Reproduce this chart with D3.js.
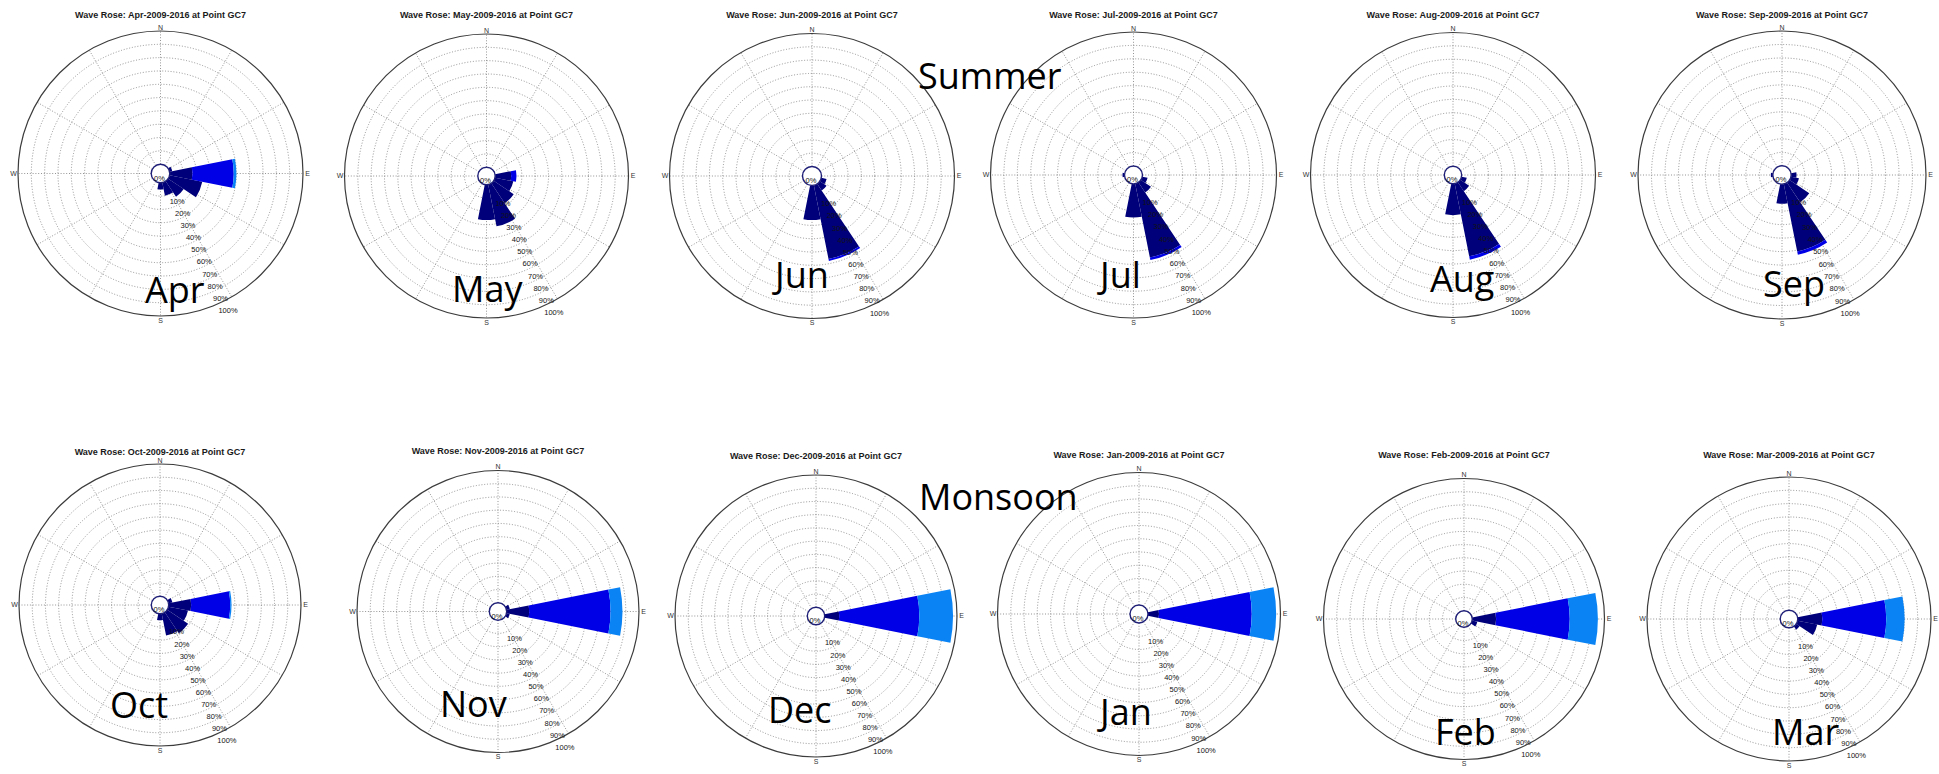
<!DOCTYPE html>
<html>
<head>
<meta charset="utf-8">
<script src="https://cdn.jsdelivr.net/npm/d3@7"></script>
<style>
  html, body { margin: 0; padding: 0; background: #ffffff; }
  svg { display: block; }
  .title { font-family: "Liberation Sans", Arial, sans-serif; font-weight: bold; font-size: 9px; fill: #1a1a1a; }
  .pct { font-family: "Liberation Sans", Arial, sans-serif; font-size: 7.5px; fill: #141414; }
  .compass { font-family: "Liberation Sans", Arial, sans-serif; font-size: 7px; fill: #333; }
  .tag { font-family: "Open Sans", sans-serif; font-size: 36px; fill: #000; }
</style>
</head>
<body>
<svg id="chart" width="1939" height="774"></svg>
<script>
// ---- data ---------------------------------------------------------------
const months = ["Apr", "May", "Jun", "Jul", "Aug", "Sep", "Oct", "Nov", "Dec", "Jan", "Feb", "Mar"];
const directions = ["N", "NNE", "NE", "ENE", "E", "ESE", "SE", "SSE", "S", "SSW", "SW", "WSW", "W", "WNW", "NW", "NNW"];
const ringTicks = [10, 20, 30, 40, 50, 60, 70, 80, 90, 100];
const compassPoints = ["N", "E", "S", "W"];
const seasons = ["Summer", "Monsoon"];
const heightClasses = ["low", "mid", "high"];

// frequency (%) per direction, N .. NNW, lowest wave-height class
const lowClass = [
  /* Apr */ [0, 0, 0, 2, 17, 25, 14, 10, 5, 0, 0, 0, 0, 0, 0, 0],
  /* May */ [0, 0, 0, 0, 12, 14, 18, 32, 26.5, 0, 0, 0, 0, 0, 0, 0],
  /* Jun */ [0, 0, 0, 0, 0, 4, 6, 56.5, 26, 0, 0, 0, 0, 0, 0, 0],
  /* Jul */ [0, 0, 0, 0, 0, 4, 9, 56, 25, 0, 0, 0, 1.5, 0, 0, 0],
  /* Aug */ [0, 0, 0, 0, 0, 4, 8, 55.5, 23.5, 0, 0, 0, 0, 0, 0, 0],
  /* Sep */ [0, 0, 0, 0, 4, 6, 17.5, 51, 14.5, 0, 0, 0, 1.5, 0, 0, 0],
  /* Oct */ [0, 0, 0, 3, 17, 15, 19, 17, 5, 0, 0, 0, 0, 0, 0, 0],
  /* Nov */ [0, 0, 0, 2.5, 17, 2.5, 0, 0, 0, 0, 0, 0, 0, 0, 0, 0],
  /* Dec */ [0, 0, 0, 0, 11, 0, 0, 0, 0, 0, 0, 0, 0, 0, 0, 0],
  /* Jan */ [0, 0, 0, 0, 8.3, 0, 0, 0, 0, 0, 0, 0, 0, 0, 0, 0],
  /* Feb */ [0, 0, 0, 0, 18, 4, 0, 0, 0, 0, 0, 0, 0, 0, 0, 0],
  /* Mar */ [0, 0, 0, 0, 18.4, 15, 3, 0, 0, 0, 0, 0, 0, 0, 0, 0]
];
// middle wave-height class
const midClass = [
  /* Apr */ [0, 0, 0, 0, 31, 0, 0, 0, 0, 0, 0, 0, 0, 0, 0, 0],
  /* May */ [0, 0, 0, 0, 4, 0, 0, 0, 0, 0, 0, 0, 0, 0, 0, 0],
  /* Jun */ [0, 0, 0, 0, 0, 0, 0, 1.5, 0, 0, 0, 0, 0, 0, 0, 0],
  /* Jul */ [0, 0, 0, 0, 0, 0, 0, 2, 0, 0, 0, 0, 0, 0, 0, 0],
  /* Aug */ [0, 0, 0, 0, 0, 0, 0, 2.5, 0, 0, 0, 0, 0, 0, 0, 0],
  /* Sep */ [0, 0, 0, 0, 0, 0, 0, 2.5, 0, 0, 0, 0, 0, 0, 0, 0],
  /* Oct */ [0, 0, 0, 0, 29.5, 0, 0, 0, 0, 0, 0, 0, 0, 0, 0, 0],
  /* Nov */ [0, 0, 0, 0, 61.5, 0, 0, 0, 0, 0, 0, 0, 0, 0, 0, 0],
  /* Dec */ [0, 0, 0, 0, 60.5, 0, 0, 0, 0, 0, 0, 0, 0, 0, 0, 0],
  /* Jan */ [0, 0, 0, 0, 70, 0, 0, 0, 0, 0, 0, 0, 0, 0, 0, 0],
  /* Feb */ [0, 0, 0, 0, 55.7, 0, 0, 0, 0, 0, 0, 0, 0, 0, 0, 0],
  /* Mar */ [0, 0, 0, 0, 48, 0, 0, 0, 0, 0, 0, 0, 0, 0, 0, 0]
];
// highest wave-height class
const highClass = [
  /* Apr */ [0, 0, 0, 0, 2, 0, 0, 0, 0, 0, 0, 0, 0, 0, 0, 0],
  /* May */ [0, 0, 0, 0, 0, 0, 0, 0, 0, 0, 0, 0, 0, 0, 0, 0],
  /* Jun */ [0, 0, 0, 0, 0, 0, 0, 0, 0, 0, 0, 0, 0, 0, 0, 0],
  /* Jul */ [0, 0, 0, 0, 0, 0, 0, 0, 0, 0, 0, 0, 0, 0, 0, 0],
  /* Aug */ [0, 0, 0, 0, 0, 0, 0, 0, 0, 0, 0, 0, 0, 0, 0, 0],
  /* Sep */ [0, 0, 0, 0, 0, 0, 0, 0, 0, 0, 0, 0, 0, 0, 0, 0],
  /* Oct */ [0, 0, 0, 0, 1, 0, 0, 0, 0, 0, 0, 0, 0, 0, 0, 0],
  /* Nov */ [0, 0, 0, 0, 9, 0, 0, 0, 0, 0, 0, 0, 0, 0, 0, 0],
  /* Dec */ [0, 0, 0, 0, 25.5, 0, 0, 0, 0, 0, 0, 0, 0, 0, 0, 0],
  /* Jan */ [0, 0, 0, 0, 18.4, 0, 0, 0, 0, 0, 0, 0, 0, 0, 0, 0],
  /* Feb */ [0, 0, 0, 0, 21.3, 0, 0, 0, 0, 0, 0, 0, 0, 0, 0, 0],
  /* Mar */ [0, 0, 0, 0, 13.8, 0, 0, 0, 0, 0, 0, 0, 0, 0, 0, 0]
];

// ---- layout -------------------------------------------------------------
// rose centre, outer radius, hole radius, title line, month tag position
const layout = [
  { cx: 160.5, cy: 173.5, R: 142.5, r0: 9.3, titleY: 15,  tagX: 145,  tagY: 303 },
  { cx: 486.5, cy: 176,   R: 142,   r0: 8.7, titleY: 15,  tagX: 452,  tagY: 302 },
  { cx: 812,   cy: 176,   R: 142.5, r0: 9.5, titleY: 15,  tagX: 775,  tagY: 288 },
  { cx: 1133.5,cy: 175,   R: 143,   r0: 9,   titleY: 15,  tagX: 1100, tagY: 288 },
  { cx: 1453,  cy: 175,   R: 142.5, r0: 8.7, titleY: 15,  tagX: 1430, tagY: 292 },
  { cx: 1782,  cy: 175,   R: 144,   r0: 9.2, titleY: 15,  tagX: 1763, tagY: 297 },
  { cx: 160,   cy: 605,   R: 141,   r0: 8.7, titleY: 452, tagX: 110,  tagY: 718 },
  { cx: 498,   cy: 611.5, R: 141,   r0: 8.7, titleY: 451, tagX: 440,  tagY: 717 },
  { cx: 816,   cy: 616,   R: 141,   r0: 8.7, titleY: 456, tagX: 768,  tagY: 723 },
  { cx: 1139,  cy: 614,   R: 141.5, r0: 9,   titleY: 455, tagX: 1100, tagY: 725 },
  { cx: 1464,  cy: 619,   R: 140.5, r0: 8.3, titleY: 455, tagX: 1435, tagY: 745 },
  { cx: 1789,  cy: 619,   R: 142,   r0: 8.8, titleY: 455, tagX: 1772, tagY: 745 }
];
const seasonPos = [{ x: 918, y: 89 }, { x: 919, y: 510 }];
const classColors = ["#00007a", "#0000e6", "#0a84f5"];
const labelBearing = 156 * Math.PI / 180;   // direction of the % scale labels

// ---- drawing ------------------------------------------------------------
const svg = d3.select("#chart");
const arc = d3.arc();
const dirAngle = d3.scaleLinear().domain([0, directions.length]).range([0, 2 * Math.PI]);

months.forEach((month, i) => {
  const L = layout[i];
  const g = svg.append("g").attr("transform", `translate(${L.cx},${L.cy})`);
  const r = d3.scaleLinear().domain([0, 100]).range([L.r0, L.R]);

  // dotted range rings
  g.append("g").selectAll("circle")
    .data(ringTicks.filter(t => t < 100))
    .join("circle")
    .attr("r", d => r(d))
    .attr("fill", "none")
    .attr("stroke", "#7a7a7a")
    .attr("stroke-width", 0.8)
    .attr("stroke-dasharray", "1 1.8");

  // dotted spokes every 30 degrees
  g.append("g").selectAll("line")
    .data(d3.range(0, 360, 30))
    .join("line")
    .attr("x1", d => r(0) * Math.sin(d * Math.PI / 180))
    .attr("y1", d => -r(0) * Math.cos(d * Math.PI / 180))
    .attr("x2", d => r(100) * Math.sin(d * Math.PI / 180))
    .attr("y2", d => -r(100) * Math.cos(d * Math.PI / 180))
    .attr("stroke", "#7a7a7a")
    .attr("stroke-width", 0.8)
    .attr("stroke-dasharray", "1 1.8");

  // stacked direction sectors
  const rows = directions.map((d, k) => ({
    dir: k, low: lowClass[i][k], mid: midClass[i][k], high: highClass[i][k]
  }));
  const layers = d3.stack().keys(heightClasses)(rows);
  layers.forEach((layer, c) => {
    g.append("g").selectAll("path")
      .data(layer.filter(d => d[1] > d[0]))
      .join("path")
      .attr("d", d => arc({
        innerRadius: r(d[0]),
        outerRadius: r(d[1]),
        startAngle: dirAngle(d.data.dir - 0.5),
        endAngle: dirAngle(d.data.dir + 0.5)
      }))
      .attr("fill", classColors[c]);
  });

  // outer 100% circle
  g.append("circle")
    .attr("r", r(100))
    .attr("fill", "none")
    .attr("stroke", "#3c3c3c")
    .attr("stroke-width", 1.2);

  // calm hole
  g.append("circle")
    .attr("r", r(0))
    .attr("fill", "#ffffff")
    .attr("stroke", "#1f1f78")
    .attr("stroke-width", 1.4);
  g.append("text").attr("class", "pct")
    .attr("x", -1).attr("y", 7).attr("text-anchor", "middle").text("0%");

  // percentage labels along the scale direction
  g.append("g").selectAll("text")
    .data(ringTicks)
    .join("text")
    .attr("class", "pct")
    .attr("x", d => r(d) * Math.sin(labelBearing))
    .attr("y", d => -r(d) * Math.cos(labelBearing) + 9.4)
    .text(d => d + "%");

  // compass letters
  const R = r(100);
  const cpos = { N: [0, -(R + 3.5)], E: [R + 4.5, 0], S: [0, R + 4.5], W: [-(R + 4.5), 0] };
  g.append("g").selectAll("text")
    .data(compassPoints)
    .join("text")
    .attr("class", "compass")
    .attr("x", d => cpos[d][0])
    .attr("y", d => cpos[d][1])
    .attr("dy", "0.35em")
    .attr("text-anchor", "middle")
    .text(d => d);

  // title
  svg.append("text").attr("class", "title")
    .attr("x", L.cx).attr("y", L.titleY).attr("dy", "0.35em")
    .attr("text-anchor", "middle")
    .text(`Wave Rose: ${month}-2009-2016 at Point GC7`);

  // month tag
  svg.append("text").attr("class", "tag")
    .attr("x", L.tagX).attr("y", L.tagY).text(month);
});

// season captions
svg.selectAll("text.season")
  .data(seasons)
  .join("text")
  .attr("class", "tag season")
  .attr("x", (d, k) => seasonPos[k].x)
  .attr("y", (d, k) => seasonPos[k].y)
  .text(d => d);
</script>
</body>
</html>
